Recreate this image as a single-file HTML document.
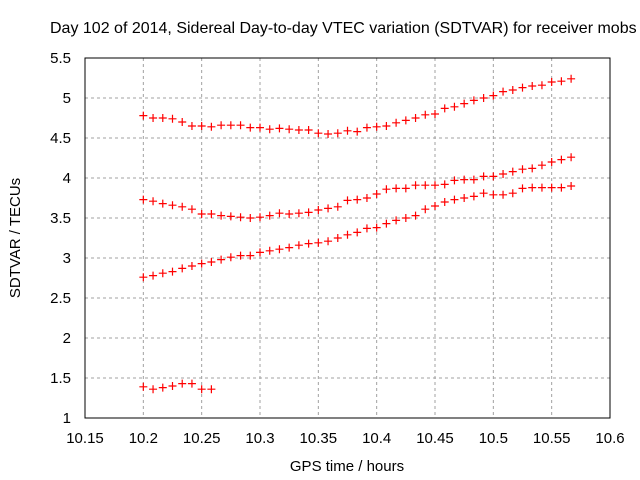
<!DOCTYPE html>
<html><head><meta charset="utf-8"><style>
body{margin:0;background:#fff;}
svg{display:block;font-family:"Liberation Sans",sans-serif;}
</style></head><body>
<svg id="c" width="640" height="480"></svg>
<script>
const xTicks=[10.15,10.2,10.25,10.3,10.35,10.4,10.45,10.5,10.55,10.6];
const yTicks=[1,1.5,2,2.5,3,3.5,4,4.5,5,5.5];
const tStart=10.2, tStep=0.05/6;
const seriesTop=[4.78,4.75,4.75,4.74,4.70,4.65,4.65,4.64,4.66,4.66,4.66,4.63,4.63,4.61,4.62,4.61,4.60,4.60,4.56,4.55,4.56,4.59,4.58,4.63,4.64,4.65,4.69,4.72,4.75,4.79,4.80,4.87,4.89,4.93,4.97,5.00,5.03,5.08,5.10,5.13,5.15,5.16,5.20,5.21,5.24];
const seriesMid=[3.73,3.71,3.68,3.66,3.64,3.61,3.55,3.55,3.53,3.52,3.51,3.50,3.51,3.53,3.56,3.55,3.56,3.57,3.60,3.62,3.64,3.72,3.73,3.75,3.80,3.86,3.87,3.87,3.91,3.91,3.91,3.92,3.97,3.98,3.98,4.02,4.02,4.05,4.08,4.11,4.12,4.16,4.20,4.23,4.26];
const seriesLow=[2.76,2.78,2.81,2.83,2.87,2.90,2.93,2.95,2.98,3.01,3.03,3.03,3.07,3.09,3.11,3.13,3.16,3.18,3.19,3.21,3.25,3.29,3.32,3.37,3.38,3.43,3.47,3.50,3.53,3.61,3.65,3.70,3.73,3.75,3.77,3.81,3.79,3.79,3.81,3.87,3.88,3.88,3.88,3.88,3.90];
const seriesShort=[1.39,1.36,1.38,1.40,1.43,1.43,1.36,1.36];
const L=85,R=610,T=58,B=418;
const xs=v=>L+(v-10.15)/0.45*(R-L);
const ys=v=>B-(v-1)/4.5*(B-T);
const svg=document.getElementById('c');
const NS='http://www.w3.org/2000/svg';
function mk(tag,a,txt){const e=document.createElementNS(NS,tag);for(const k in a)e.setAttribute(k,a[k]);if(txt!==undefined)e.textContent=txt;svg.appendChild(e);return e;}
xTicks.forEach((v,i)=>{const x=xs(v);
 if(i>0&&i<xTicks.length-1){const g=mk('line',{x1:x,x2:x,y1:T,y2:B,stroke:'#a0a0a0','stroke-dasharray':'3,3'});
 
 }
 const t=mk('text',{x:x,y:443,'text-anchor':'middle','font-size':15,fill:'#000'},String(v));
 
 
});
yTicks.forEach((v,i)=>{const y=ys(v);
 if(i>0&&i<yTicks.length-1){const g=mk('line',{x1:L,x2:R,y1:y,y2:y,stroke:'#a0a0a0','stroke-dasharray':'3,3'});
 
 }
 const t=mk('text',{x:71,y:y+5,'text-anchor':'end','font-size':15,fill:'#000'},String(v));
 
 
});
const fr=mk('rect',{x:L,y:T,width:R-L,height:B-T,fill:'none',stroke:'#000'});


[seriesTop,seriesMid,seriesLow,seriesShort].forEach((s,si)=>{
 s.forEach((v,i)=>{const x=xs(tStart+i*tStep),y=ys(v);
  const p=mk('path',{d:`M${x-4},${y}H${x+4}M${x},${y-4}V${y+4}`,stroke:'#ff0000','stroke-width':1.2});
  
  
 });
});
const ti=mk('text',{x:50,y:33,'font-size':16,fill:'#000'},'Day 102 of 2014, Sidereal Day-to-day VTEC variation (SDTVAR) for receiver mobs');


const xl=mk('text',{x:347,y:471,'text-anchor':'middle','font-size':15,fill:'#000'},'GPS time / hours');


const yl=mk('text',{x:0,y:0,'text-anchor':'middle','font-size':15,fill:'#000',transform:'translate(20,238) rotate(-90)'},'SDTVAR / TECUs');


</script>
</body></html>
